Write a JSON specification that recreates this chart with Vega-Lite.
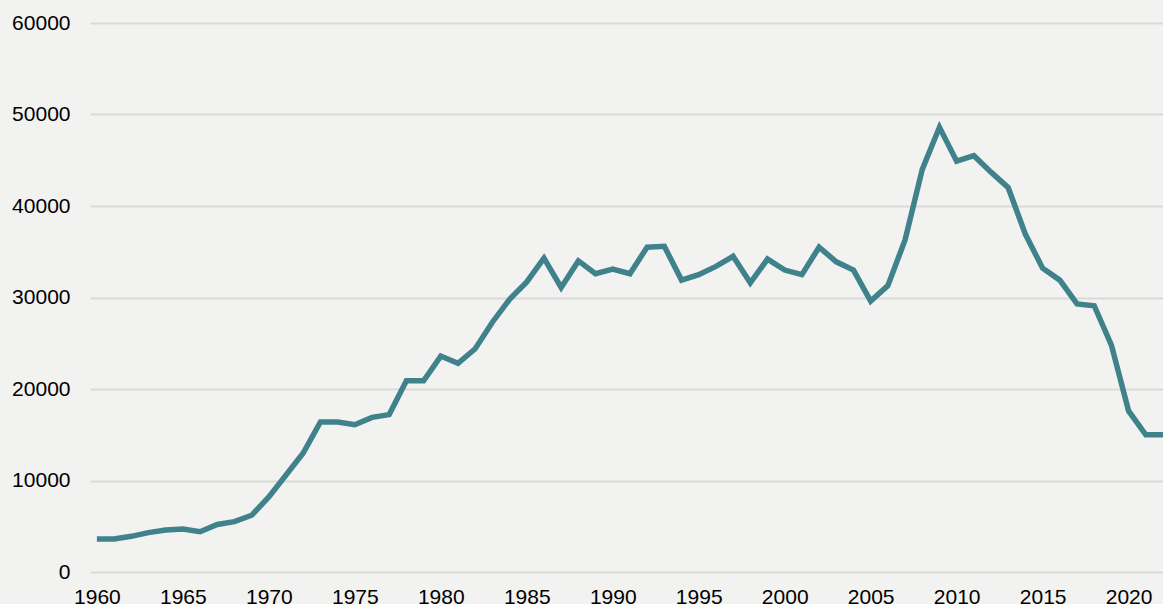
{
  "$schema": "https://vega.github.io/schema/vega-lite/v6.json",
  "width": 1073,
  "height": 549,
  "autosize": {"type": "none"},
  "padding": {"left": 90, "top": 23, "right": 0, "bottom": 32},
  "background": "#f2f2f1",
  "config": {
    "view": {"stroke": null},
    "font": "Liberation Sans",
    "axis": {"labelFont": "Liberation Sans", "labelFontSize": 21, "labelColor": "#000000", "domain": false, "ticks": false, "title": null, "gridColor": "#d9d9d9", "gridWidth": 2}
  },
  "data": {
    "values": [
      {"year": 1960, "value": 3600}, {"year": 1961, "value": 3600}, {"year": 1962, "value": 3900},
      {"year": 1963, "value": 4300}, {"year": 1964, "value": 4600}, {"year": 1965, "value": 4700},
      {"year": 1966, "value": 4400}, {"year": 1967, "value": 5200}, {"year": 1968, "value": 5500},
      {"year": 1969, "value": 6200}, {"year": 1970, "value": 8200}, {"year": 1971, "value": 10600},
      {"year": 1972, "value": 13000}, {"year": 1973, "value": 16400}, {"year": 1974, "value": 16400},
      {"year": 1975, "value": 16100}, {"year": 1976, "value": 16900}, {"year": 1977, "value": 17200},
      {"year": 1978, "value": 20900}, {"year": 1979, "value": 20900}, {"year": 1980, "value": 23600},
      {"year": 1981, "value": 22800}, {"year": 1982, "value": 24400}, {"year": 1983, "value": 27300},
      {"year": 1984, "value": 29800}, {"year": 1985, "value": 31700}, {"year": 1986, "value": 34300},
      {"year": 1987, "value": 31100}, {"year": 1988, "value": 34000}, {"year": 1989, "value": 32600},
      {"year": 1990, "value": 33100}, {"year": 1991, "value": 32600}, {"year": 1992, "value": 35500},
      {"year": 1993, "value": 35600}, {"year": 1994, "value": 31900}, {"year": 1995, "value": 32500},
      {"year": 1996, "value": 33400}, {"year": 1997, "value": 34500}, {"year": 1998, "value": 31600},
      {"year": 1999, "value": 34200}, {"year": 2000, "value": 33000}, {"year": 2001, "value": 32500},
      {"year": 2002, "value": 35500}, {"year": 2003, "value": 33900}, {"year": 2004, "value": 33000},
      {"year": 2005, "value": 29600}, {"year": 2006, "value": 31300}, {"year": 2007, "value": 36300},
      {"year": 2008, "value": 44000}, {"year": 2009, "value": 48600}, {"year": 2010, "value": 44900},
      {"year": 2011, "value": 45500}, {"year": 2012, "value": 43700}, {"year": 2013, "value": 42000},
      {"year": 2014, "value": 36900}, {"year": 2015, "value": 33200}, {"year": 2016, "value": 31900},
      {"year": 2017, "value": 29300}, {"year": 2018, "value": 29100}, {"year": 2019, "value": 24800},
      {"year": 2020, "value": 17600}, {"year": 2021, "value": 15000}, {"year": 2022, "value": 15000}
    ]
  },
  "mark": {"type": "line", "color": "#3f828c", "strokeWidth": 5.5, "strokeJoin": "miter", "clip": false},
  "encoding": {
    "x": {
      "field": "year", "type": "quantitative",
      "scale": {"domain": [1959.6, 2022], "nice": false, "zero": false},
      "axis": {"values": [1960, 1965, 1970, 1975, 1980, 1985, 1990, 1995, 2000, 2005, 2010, 2015, 2020], "format": "d", "grid": false, "labelPadding": 14, "labelFlush": false}
    },
    "y": {
      "field": "value", "type": "quantitative",
      "scale": {"domain": [0, 60000], "nice": false},
      "axis": {"values": [0, 10000, 20000, 30000, 40000, 50000, 60000], "format": "d", "labelPadding": 20}
    }
  }
}
